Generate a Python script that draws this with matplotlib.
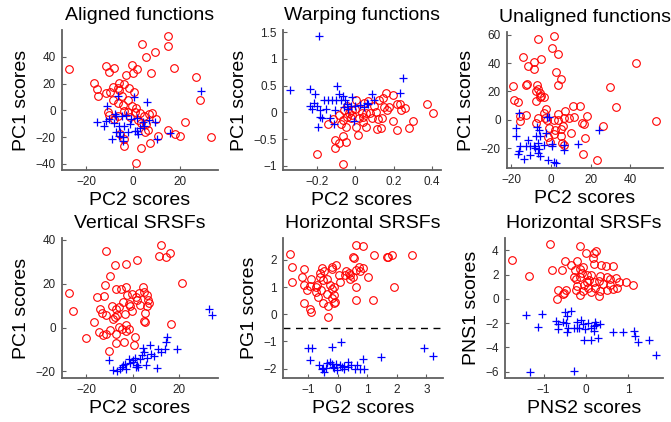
import numpy as np
import matplotlib
matplotlib.use('Agg')
import matplotlib.pyplot as plt
from matplotlib.ticker import FuncFormatter

plt.rcParams['font.family'] = ['Liberation Sans', 'DejaVu Sans']

# ---- data (x, y) ----
aligned_circ = [(-27.3, 30.6), (15.1, 55.3), (15.1, 48.1), (3.7, 49.9), (9.6, 43.7), (5.4, 39.5), (17.7, 31.6),
                (7.6, 27.7), (-11.4, 33.1), (-8, 31.6), (-10.3, 28.6), (-0.6, 34.1), (1.6, 31.1), (-0.1, 28.1),
                (-2.9, 26.2), (27.1, 24.7), (-16.9, 20.2), (-15.3, 16), (-14.9, 10.4), (-11.6, 13.3), (-9.9, 13.8),
                (-8.7, 17.8), (-6.1, 15.3), (-6.6, 17), (-3.9, 19.8), (-6.1, 20.7), (-1.9, 16.5), (0.4, 13.8),
                (-8.6, 7.4), (-4.7, 10.4), (-6.3, 5.4), (-4.3, 4), (-2.1, 7.9), (-0.4, 3.5), (1.3, 1.5), (28.9, 7.4),
                (-6.3, -4.4), (-10.3, -3.2), (-4, -0.5), (-2.3, -1.5), (0.9, -1), (2.9, -2), (4.6, -4), (6.7, -3),
                (8.3, -2), (2, -7.4), (3.6, -9.4), (5.7, -9.9), (5, -16.3), (6.6, -14.3), (10.6, -19.3),
                (7.3, -24.2), (3.6, -28.4), (-3.7, -26.7), (-4, -21), (-5.4, -17.8), (1.4, -39), (15, -14.8),
                (18, -17.5), (20, -19), (22.4, -8.9), (33.7, -19.8), (9.9, -6.2), (-1.3, -4.9), (-8.3, -6.7),
                (-10.9, -1.5)]
aligned_plus = [(29.1, 14.6), (-6.6, 10.4), (0.6, 9.9), (6, 5.9), (-11.1, 3), (-15.4, -8.9), (-12.3, -11.4),
                (-11.7, -8.1), (-10.4, -6.4), (-7.9, -2.5), (-7.4, -4), (-4.9, -4.4), (-2.9, -3.5), (-0.7, -6.4),
                (1.7, -5.9), (4.3, -8.9), (6.7, -7.4), (9.3, -8.9), (-6.1, -11.9), (-7.4, -16.3), (-5.4, -16.3),
                (-6.1, -18.8), (-9, -21.7), (-4.3, -20.2), (-2.1, -15.8), (1.7, -15.1), (2, -17.3), (2.9, -13.1),
                (10.3, -21.7), (16, -16.8), (-3.7, -11.9), (-8.3, -9.4), (4.6, -11.4), (-1.1, -9.9),
                (-4.4, -22.7), (1, -15.6)]

warp_circ = [(-0.198, -0.78), (-0.063, -0.96), (-0.106, -0.66), (-0.104, -0.51), (-0.144, -0.21), (-0.115, -0.13),
             (-0.083, -0.05), (-0.073, -0.22), (-0.049, -0.27), (-0.059, 0.04), (-0.045, 0.12), (-0.031, -0.01),
             (-0.017, 0.04), (0, 0.06), (-0.024, -0.11), (-0.063, -0.44), (-0.049, -0.55), (-0.083, -0.58),
             (-0.066, -0.14), (0.003, -0.27), (0.016, -0.43), (0.042, -0.08), (0.042, -0.18), (0.056, -0.27),
             (0.033, -0.01), (0.077, -0.01), (0.097, 0.12), (0.111, 0.01), (0.125, 0.23), (0.146, 0.26),
             (0.163, 0.37), (0.15, 0.09), (0.167, 0.04), (0.139, -0.11), (0.115, -0.31), (0.137, -0.29),
             (0.118, -0.13), (0.198, 0.33), (0.216, 0.16), (0.233, 0.16), (0.257, 0.08), (0.198, -0.16),
             (0.219, -0.34), (0.282, -0.3), (0.303, -0.16), (0.376, 0.15), (0.407, -0.01), (0.068, 0.21),
             (0.045, 0.18), (0.003, 0.23), (-0.014, -0.05), (0.019, -0.11), (0.085, -0.11), (0.177, 0.09),
             (0.238, 0.04), (-0.042, -0.08), (0.056, -0.02)]
warp_plus = [(-0.19, 1.43), (-0.34, 0.42), (-0.233, 0.43), (-0.209, 0.34), (-0.233, 0.11), (-0.226, 0.07),
             (-0.216, 0.18), (-0.198, 0.11), (-0.184, 0.04), (-0.184, -0.08), (-0.193, -0.27), (-0.174, -0.11),
             (-0.163, 0.23), (-0.153, 0.06), (-0.141, 0.23), (-0.122, 0.23), (-0.101, 0.23), (-0.094, 0.49),
             (-0.083, 0.34), (-0.076, 0.23), (-0.104, 0.04), (-0.132, -0.11), (-0.108, -0.21), (-0.066, 0.31),
             (-0.054, 0.23), (-0.045, 0.16), (-0.016, 0.29), (-0.059, 0.09), (-0.024, 0.12), (-0.005, -0.16),
             (-0.035, 0.06), (0.024, 0.13), (0.045, 0.09), (0.059, 0.18), (0.068, 0.16), (0.085, 0.34),
             (0.097, 0.23), (0.25, 0.64), (0.235, 0.36), (0, 0.12)]

unal_circ = [(1.7, 58.9), (-6.5, 56.8), (0.5, 50.8), (3.5, 46.8), (-14.2, 44.4), (-5, 42.6), (-8.4, 40.7),
             (-11.4, 38.1), (-8.4, 35.6), (2.7, 33.9), (5, 28.5), (3.5, 24.8), (-12.4, 24.8), (-12, 25.3),
             (42.7, 40.2), (29.8, 23.4), (32.8, 9.4), (-19.1, 23.9), (-18.4, 14), (-16.6, 12.6), (-7, 24.3),
             (-6.5, 21.5), (-7.7, 20.6), (-5.4, 19.2), (-4.9, 16.8), (-3.3, 15.9), (-7.4, 13.6), (-5.4, 16.4),
             (-2.7, 7.5), (-3.7, 4.7), (-15.4, 2.8), (-15.7, -0.5), (-12.4, 3.5), (-6.7, 1.2), (-7.4, -2.3),
             (-2, 0), (3.8, 4.2), (6.9, 6.3), (6.4, 1.2), (8.9, 1.2), (11.4, 1.9), (11.1, 9.8), (14.7, 9.8),
             (18.1, 2.8), (15.6, -1.9), (16.4, -2.8), (-1.2, -5.9), (2, -7), (5, -6.5), (6, -4.7), (1.3, -10.3),
             (-1.7, -12.2), (5, -11.7), (10, -9.4), (5.5, -16.4), (6.4, -18), (-0.7, -15.9), (17.3, -12.9),
             (16.1, -23.9), (23.4, -28.6), (26, -4.2), (52.9, -0.7), (1.3, 0), (3.8, 0), (-3.2, 1.2)]
unal_plus = [(-16.1, 5.1), (-17.4, -6.1), (-17.7, -11.7), (-15.4, -18.7), (-16.1, -22.2), (-16.4, -23.9),
             (-11.7, -14), (-10.4, -18.2), (-12.4, -18.7), (-13.4, -27.6), (-10.7, -24.8), (-7, -5.1),
             (-6, -7.5), (-5.4, -11.7), (-7.4, -11.2), (-6.7, -16.4), (-7.9, -19.9), (-6, -20.6), (-5.7, -25.7),
             (-6.7, -23.4), (-2, 1.9), (-1, 2.3), (-2.7, -9.4), (-1.7, -28.5), (1.3, -29.5), (2.7, -30.4),
             (0.3, -16.8), (0.7, -18.7), (6.7, -17.8), (6.4, -21.5), (13.4, -16.8), (24.1, -7), (-3.7, -17.5),
             (-8.7, -18.7)]

vert_circ = [(-11.4, 35.1), (12.1, 37.5), (11.4, 32.5), (14.3, 32.1), (16, 34.2), (2.1, 30.9), (-7.4, 28.7),
             (-2.7, 29.2), (21.4, 20.4), (-9.7, 23.6), (-11.9, 19.3), (-27.4, 16), (-25.4, 7.4), (-15.1, 13.8),
             (-12.3, 14.4), (-6.9, 17.5), (-5.1, 17.5), (-2.9, 18.4), (4.3, 18.7), (4.9, 16.3), (2.9, 16),
             (-0.4, 15.5), (-2.3, 14.7), (1.4, 14.1), (6, 14.7), (6.6, 12.6), (7.1, 11.4), (2, 12.8),
             (-1.4, 10.9), (-4, 11.7), (-5.7, 9.4), (-8.9, 9.9), (-6.9, 8.4), (-14, 8.4), (-13.1, 6.8),
             (-11.4, 5.6), (-8.3, 3.8), (-7.4, 4.7), (-6.6, 5.6), (-3.4, 6.2), (-0.1, 7.8), (-0.9, 9.9),
             (-16.4, 2.6), (-14.6, -2), (-12.6, -3.2), (-11.4, -2.9), (-9.7, -1.2), (-6.9, -2.7), (-5.7, 0.5),
             (-4.4, -0.8), (-2.9, -1.7), (-2.6, 1.1), (-1.7, -0.8), (0.9, -4.3), (0.6, -7.8), (-6.9, -6.8),
             (-3.7, -6.5), (-10, -10.8), (-20, -4.7), (4.9, 2.9), (5.4, 2.6), (5.4, 6.8), (16.3, 1.8),
             (3.1, 10.2), (6, 9.7)]
vert_plus = [(32.9, 8.4), (34, 5.6), (-10.3, -15), (-8.3, -19.3), (-6.6, -19.6), (-5.4, -19), (-4.7, -17.9),
             (-3.3, -16.4), (-2.9, -18.7), (-1.7, -14.4), (0, -15), (1, -13.8), (0.3, -15.6), (1.7, -16.9),
             (2.4, -17.8), (1.4, -18.1), (3.1, -14.4), (3.9, -12.6), (4.9, -11.1), (6, -13.8), (5.7, -16.9),
             (7.7, -8.1), (8.1, -11.9), (9.4, -13), (11.1, -9.9), (12.1, -11.1), (13.9, -9.9), (14.3, -6.5),
             (14.9, -4.1), (18.9, -9.9), (10.3, -18.4), (4.6, -9.3), (-4.3, -17.2), (-1.1, -16)]

pg_circ = [(-1.6, 2.22), (-1.54, 1.73), (-1.54, 1.19), (-1.15, 1.65), (-1.22, 1.38), (-1.15, 1.09), (-1.04, 0.89),
           (-0.89, 1.31), (-0.95, 1.04), (-0.75, 1.02), (-0.72, 0.81), (-0.7, 1.09), (-0.66, 0.62), (-1.15, 0.4),
           (-0.95, 0.2), (-0.89, 0.07), (-0.56, 0.91), (-0.54, 1.7), (-0.47, 1.6), (-0.59, 1.51), (-0.59, 1.38),
           (-0.5, 1.26), (-0.36, 1.31), (-0.2, 1.68), (-0.18, 1.75), (-0.05, 1.83), (-0.27, 1.09), (-0.14, 0.99),
           (-0.21, 0.94), (-0.36, 0.74), (-0.14, 0.72), (-0.5, 0.4), (-0.34, 0.3), (-0.1, 0.44), (-0.11, 0.4),
           (-0.33, -0.1), (-0.2, 0.59), (0.05, 1.43), (0.09, 1.19), (0.24, 1.46), (0.38, 1.51), (0.43, 1.43),
           (0.52, 1.36), (0.43, 1.31), (0.61, 1.63), (0.52, 2.12), (0.54, 2.07), (0.63, 2.57), (0.86, 2.51),
           (0.72, 1.73), (0.75, 1.58), (0.86, 1.7), (1.04, 1.36), (0.61, 1.01), (0.61, 0.52), (1.2, 0.54),
           (1.24, 2.17), (1.65, 2.1), (1.71, 2.12), (1.85, 2.2), (2.51, 2.2), (1.92, 1.02), (0.29, 1.58)]
pg_plus = [(-0.99, -1.26), (-0.88, -1.26), (-0.21, -1.2), (0.11, -1.04), (-0.93, -1.7), (-0.63, -1.88),
           (-0.54, -2.02), (-0.47, -2.12), (-0.41, -1.98), (-0.36, -1.8), (-0.27, -1.75), (-0.2, -1.85),
           (-0.14, -1.98), (-0.02, -2.07), (-0.07, -1.85), (0.07, -1.88), (0.16, -1.95), (0.2, -2),
           (0.34, -1.75), (0.36, -1.95), (0.46, -1.88), (0.59, -2), (0.66, -1.88), (0.77, -2.02), (0.9, -2.02),
           (0.84, -1.65), (1.45, -1.58), (2.92, -1.26), (3.23, -1.53), (-0.5, -1.98), (-0.16, -1.95),
           (0.2, -1.9)]
pg_threshold = -0.5

pns_circ = [(-1.74, 3.23), (-1.34, 1.88), (-0.84, 4.53), (-0.13, 4.36), (0, 3.78), (0.24, 3.92), (0.19, 3.78),
            (-0.49, 3.15), (-0.36, 2.82), (-0.21, 3.15), (-0.79, 2.38), (-0.57, 2.38), (-0.25, 2.38),
            (-0.14, 2.49), (-0.06, 2.6), (0.17, 3.37), (0.19, 2.87), (0.35, 2.82), (0.47, 2.68), (0.63, 2.73),
            (-0.13, 1.85), (0.02, 1.99), (0.13, 1.99), (0.33, 1.93), (0.49, 1.85), (0.58, 1.66), (0.7, 1.77),
            (0.77, 1.38), (0.95, 1.38), (1.12, 1.16), (-0.22, 1.1), (-0.05, 1.16), (-0.24, 0.75), (-0.08, 0.66),
            (0.06, 0.94), (0.22, 0.88), (0.33, 0.66), (0.49, 0.75), (0.65, 0.83), (0.73, 0.88), (0.19, 1.38),
            (0.32, 1.49), (0.41, 1.22), (-0.47, 0.72), (-0.52, 0.5), (-0.55, 0.39), (-0.66, 0.72), (-0.68, 0),
            (-0.14, 0.33), (0.32, 0.28), (-0.24, 1.66), (-0.28, 1.85), (0.08, 1.57), (0.02, 1.44), (0.58, 1.16),
            (0.13, 0.55), (-0.1, 2.13)]
pns_plus = [(-1.41, -1.33), (-1.04, -1.27), (-1.14, -2.29), (-1.31, -6.02), (-0.27, -5.94), (-0.49, -1.1),
            (-0.35, -1.0), (-0.44, -1.38), (-0.7, -1.82), (-0.66, -2.04), (-0.65, -2.49), (-0.55, -1.93),
            (-0.47, -2.02), (-0.43, -2.38), (-0.44, -2.76), (-0.22, -1.88), (-0.21, -2.43), (-0.11, -1.74),
            (-0.06, -2.1), (-0.02, -2.49), (0.05, -2.02), (0.11, -2.43), (0.19, -2.21), (0.22, -1.93),
            (0.25, -2.15), (0.33, -2.1), (0.19, -2.65), (0.29, -3.2), (-0.05, -3.4), (0.11, -3.4), (0.63, -2.76),
            (0.87, -2.76), (1.14, -2.65), (1.17, -3.04), (1.23, -3.54), (1.49, -3.4), (1.66, -4.64),
            (-0.28, -2.38), (-0.16, -2.38)]

titles = ['Aligned functions', 'Warping functions', 'Unaligned functions',
          'Vertical SRSFs', 'Horizontal SRSFs', 'Horizontal SRSFs']
xlabels = ['PC2 scores', 'PC2 scores', 'PC2 scores', 'PC2 scores', 'PG2 scores', 'PNS2 scores']
ylabels = ['PC1 scores', 'PC1 scores', 'PC1 scores', 'PC1 scores', 'PG1 scores', 'PNS1 scores']
xticks = [[-20, 0, 20], [-0.2, 0, 0.2, 0.4], [-20, 0, 20, 40], [-20, 0, 20], [-1, 0, 1, 2, 3], [-1, 0, 1]]
yticks = [[-40, -20, 0, 20, 40], [-1, -0.5, 0, 0.5, 1, 1.5], [-20, 0, 20, 40, 60], [-20, 0, 20, 40],
          [-2, -1, 0, 1, 2], [-6, -4, -2, 0, 2, 4]]
xlims = [(-30.5, 36.5), (-0.376, 0.447), (-22.1, 56.4), (-30.3, 36.7), (-1.85, 3.56), (-1.91, 1.82)]
ylims = [(-44.5, 60), (-1.08, 1.54), (-34, 62), (-23, 40.9), (-2.35, 2.81), (-6.52, 5.03)]

circles = [aligned_circ, warp_circ, unal_circ, vert_circ, pg_circ, pns_circ]
pluses = [aligned_plus, warp_plus, unal_plus, vert_plus, pg_plus, pns_plus]

# axes boxes in pixels: left, top, right, bottom
W, H = 671, 422
boxes = [(62, 30, 218, 170), (283, 30, 441, 170), (507, 32, 663, 168),
         (62, 238, 218, 378), (283, 238, 443, 378), (505, 238, 663, 378)]

fig = plt.figure(figsize=(W / 100, H / 100), dpi=100)
fmt = FuncFormatter(lambda v, p: ('%g' % v).replace('-', '\u2212'))

for k in range(6):
    l, t, r, b = boxes[k]
    ax = fig.add_axes([l / W, 1 - b / H, (r - l) / W, (b - t) / H])
    c = np.array(circles[k])
    p = np.array(pluses[k])
    ax.plot(c[:, 0], c[:, 1], 'o', mfc='none', mec='red', ms=5.5, mew=0.8)
    ax.plot(p[:, 0], p[:, 1], '+', color='blue', ms=6, mew=0.9)
    if k == 4:
        ax.axhline(pg_threshold, color='k', ls='--', lw=1, dashes=(5, 4))
    ax.set_xlim(xlims[k])
    ax.set_ylim(ylims[k])
    ax.set_xticks(xticks[k])
    ax.set_yticks(yticks[k])
    ax.xaxis.set_major_formatter(fmt)
    ax.yaxis.set_major_formatter(fmt)
    for s in ['top', 'right']:
        ax.spines[s].set_visible(False)
    for s in ['left', 'bottom']:
        ax.spines[s].set_color('#606060')
        ax.spines[s].set_linewidth(1.3)
    ax.tick_params(direction='in', length=3, width=0.8, color='#606060', labelsize=8.5,
                   labelcolor='#262626', pad=4.5)
    ax.set_title(titles[k], fontsize=14, pad=7.5)
    ax.set_xlabel(xlabels[k], fontsize=14, labelpad=2.5)
    ax.set_ylabel(ylabels[k], fontsize=14, labelpad=4)
    ax.patch.set_alpha(0)

fig.savefig('out.png', dpi=100)
